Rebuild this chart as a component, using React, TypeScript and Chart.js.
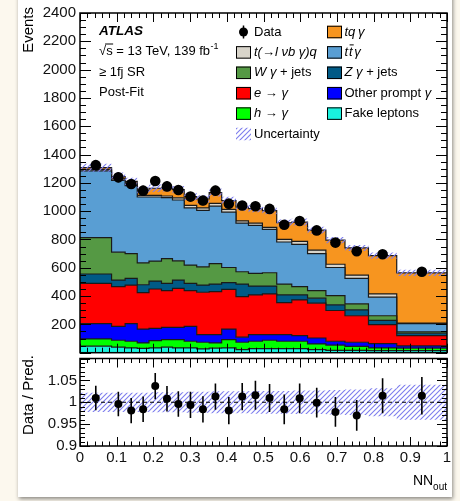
import React, { useEffect, useRef } from 'react';
import { Chart, registerables } from 'chart.js';

Chart.register(...registerables);

const FONT = "'Liberation Sans', Arial, Helvetica, sans-serif";

// NN_out bin edges (variable width)
const binEdges = [0, 0.086, 0.123, 0.156, 0.188, 0.222, 0.252, 0.284, 0.318, 0.352, 0.386, 0.425, 0.459, 0.497, 0.536, 0.577, 0.62, 0.67, 0.722, 0.786, 0.863, 1.0];

// stacked process yields per bin (bottom to top)
const fakeLeptons = [46, 39, 34, 30, 34, 39, 34, 34, 27, 32, 34, 22, 29, 29, 29, 29, 22, 17, 17, 15, 15];
const hToGamma = [51, 49, 47, 39, 51, 53, 58, 47, 47, 37, 58, 52, 52, 59, 52, 52, 40, 36, 28, 19, 17];
const otherPrompt = [108, 98, 124, 98, 87, 87, 87, 105, 54, 59, 75, 36, 47, 40, 47, 39, 42, 28, 29, 30, 16];
const eToGamma = [285, 281, 273, 258, 278, 260, 276, 253, 299, 304, 281, 286, 280, 287, 226, 253, 246, 217, 187, 134, 72];
const zGammaJets = [66, 46, 47, 55, 56, 51, 58, 51, 51, 53, 47, 89, 63, 56, 54, 35, 35, 40, 42, 30, 18];
const wGammaJets = [257, 197, 175, 155, 141, 175, 136, 129, 129, 145, 107, 87, 89, 94, 77, 59, 54, 65, 42, 33, 10];
const ttGamma = [472, 508, 480, 465, 453, 430, 430, 404, 398, 405, 391, 344, 339, 306, 297, 299, 261, 199, 180, 131, 57];
const tLnuBGammaQ = [10, 10, 10, 12, 12, 12, 15, 18, 18, 20, 20, 15, 16, 15, 18, 20, 25, 23, 23, 23, 5];
const tqGamma = [12, 17, 20, 35, 50, 58, 58, 62, 63, 76, 62, 97, 103, 118, 118, 137, 141, 170, 192, 271, 354];

// data
const dataEvents = [1325, 1239, 1192, 1145, 1213, 1175, 1150, 1103, 1075, 1145, 1053, 1040, 1035, 1016, 904, 930, 864, 778, 717, 696, 572];
const dataErrors = [36, 35, 35, 34, 35, 34, 34, 33, 33, 34, 32, 32, 32, 32, 30, 30, 29, 28, 27, 26, 24];

// ratio panel
const ratioValues = [1.010, 0.996, 0.981, 0.984, 1.037, 1.008, 0.996, 0.994, 0.984, 1.013, 0.981, 1.013, 1.016, 1.010, 0.984, 1.009, 0.999, 0.978, 0.970, 1.015, 1.015];
const ratioErrors = [0.028, 0.028, 0.029, 0.029, 0.030, 0.029, 0.029, 0.030, 0.030, 0.030, 0.031, 0.031, 0.033, 0.032, 0.034, 0.034, 0.034, 0.034, 0.035, 0.040, 0.043];
const relUncertainty = [0.022, 0.022, 0.022, 0.022, 0.023, 0.023, 0.023, 0.024, 0.024, 0.025, 0.025, 0.025, 0.026, 0.026, 0.026, 0.027, 0.027, 0.028, 0.029, 0.032, 0.040];

const processLabels = ['Fake leptons', 'h → γ', 'Other prompt γ', 'e → γ', 'Zγ + jets', 'Wγ + jets', 'tt̄γ', 't(→lνbγ)q', 'tqγ'];
const processValues = [fakeLeptons, hToGamma, otherPrompt, eToGamma, zGammaJets, wGammaJets, ttGamma, tLnuBGammaQ, tqGamma];
const processColors = ['#19f2de', '#00ff00', '#0000ff', '#ff0000', '#005a86', '#559944', '#599ed3', '#d8d4ca', '#f7951f'];

const mainYTicks = { step: 200, minor: 50 };
const ratioYTicks = { step: 0.05, minor: 0.01 };
const xTicks = { step: 0.1, minor: 0.02 };

function makeHatch(): CanvasPattern {
  const s = 5;
  const c = document.createElement('canvas');
  c.width = s;
  c.height = s;
  const g = c.getContext('2d')!;
  g.strokeStyle = 'rgb(125,125,238)';
  g.lineWidth = 1.1;
  g.beginPath();
  g.moveTo(0, s);
  g.lineTo(s, 0);
  g.moveTo(-s / 2, s / 2);
  g.lineTo(s / 2, -s / 2);
  g.moveTo(s / 2, s * 1.5);
  g.lineTo(s * 1.5, s / 2);
  g.stroke();
  return g.createPattern(c, 'repeat')!;
}

function errorBarPlugin(id: string, values: number[], errs: number[], centers: number[], lw: number) {
  return {
    id,
    afterDatasetsDraw(chart: any) {
      const { ctx, scales } = chart;
      const x = scales.x;
      const y = scales.y;
      ctx.save();
      ctx.strokeStyle = '#000';
      ctx.lineWidth = lw;
      ctx.beginPath();
      values.forEach((v, i) => {
        const px = x.getPixelForValue(centers[i]);
        ctx.moveTo(px, y.getPixelForValue(v - errs[i]));
        ctx.lineTo(px, y.getPixelForValue(v + errs[i]));
      });
      ctx.stroke();
      ctx.restore();
    },
  };
}

function framePlugin(id: string, yt: { step: number; minor: number }, len: { xMaj: number; xMin: number; yMaj: number; yMin: number }) {
  return {
    id,
    afterDraw(chart: any) {
      const { ctx, chartArea: a, scales } = chart;
      const xs = scales.x;
      const ys = scales.y;
      ctx.save();
      ctx.strokeStyle = '#000';
      ctx.lineWidth = 1;
      ctx.beginPath();
      const xTick = (step: number, l: number) => {
        const n = Math.round((xs.max - xs.min) / step);
        for (let i = 0; i <= n; i++) {
          const px = Math.round(xs.getPixelForValue(xs.min + i * step)) + 0.5;
          ctx.moveTo(px, a.bottom);
          ctx.lineTo(px, a.bottom - l);
          ctx.moveTo(px, a.top);
          ctx.lineTo(px, a.top + l);
        }
      };
      const yTick = (step: number, l: number) => {
        const n = Math.round((ys.max - ys.min) / step);
        for (let i = 0; i <= n; i++) {
          const py = Math.round(ys.getPixelForValue(ys.min + i * step)) + 0.5;
          ctx.moveTo(a.left, py);
          ctx.lineTo(a.left + l, py);
          ctx.moveTo(a.right, py);
          ctx.lineTo(a.right - l, py);
        }
      };
      xTick(xTicks.minor, len.xMin);
      xTick(xTicks.step, len.xMaj);
      yTick(yt.minor, len.yMin);
      yTick(yt.step, len.yMaj);
      ctx.stroke();
      ctx.lineWidth = 1.5;
      ctx.strokeRect(a.left, a.top, a.right - a.left, a.bottom - a.top);
      ctx.restore();
    },
  };
}

function drawRich(ctx: CanvasRenderingContext2D, x: number, y: number, parts: [string, boolean][], size: number) {
  let cx = x;
  for (const [t, it] of parts) {
    ctx.font = `${it ? 'italic ' : ''}${size}px ${FONT}`;
    ctx.fillText(t, cx, y);
    cx += ctx.measureText(t).width;
  }
  return cx;
}

function mainTextPlugin(hatch: CanvasPattern) {
  return {
    id: 'mainText',
    afterDraw(chart: any) {
      const { ctx, chartArea: a } = chart;
      ctx.save();
      ctx.fillStyle = '#000';
      ctx.textBaseline = 'middle';
      ctx.textAlign = 'left';

      // y title
      ctx.save();
      ctx.translate(a.left - 51, a.top - 6);
      ctx.rotate(-Math.PI / 2);
      ctx.textAlign = 'right';
      ctx.font = `15px ${FONT}`;
      ctx.fillText('Events', 0, 0);
      ctx.restore();

      // ATLAS block
      const x0 = a.left + 19;
      const ly = (k: number) => a.top + 18 + 20.5 * k;
      ctx.font = `bold italic 13.5px ${FONT}`;
      ctx.fillText('ATLAS', x0, ly(0));
      ctx.font = `13px ${FONT}`;
      const wSqrt = ctx.measureText('√').width;
      const wS = ctx.measureText('s').width;
      const end = drawRich(ctx, x0, ly(1), [['√s = 13 TeV, 139 fb', false]], 13);
      ctx.beginPath();
      ctx.lineWidth = 1;
      ctx.strokeStyle = '#000';
      ctx.moveTo(x0 + wSqrt - 1, ly(1) - 7.5);
      ctx.lineTo(x0 + wSqrt + wS + 0.5, ly(1) - 7.5);
      ctx.stroke();
      ctx.font = `9px ${FONT}`;
      ctx.fillText('-1', end + 0.5, ly(1) - 5);
      drawRich(ctx, x0, ly(2), [['≥ 1fj SR', false]], 13);
      drawRich(ctx, x0, ly(3), [['Post-Fit', false]], 13);

      // legend
      const c1 = a.left + 156;
      const c2 = a.left + 247;
      const ry = (r: number) => a.top + 19 + 20.4 * r;
      const bw = 15;
      const bh = 12.5;
      const box = (x: number, y: number, color: string) => {
        ctx.fillStyle = color;
        ctx.fillRect(x, y - bh / 2, bw, bh);
        ctx.strokeStyle = '#000';
        ctx.lineWidth = 1;
        ctx.strokeRect(x + 0.5, y - bh / 2 + 0.5, bw - 1, bh - 1);
        ctx.fillStyle = '#000';
      };
      // Data marker
      ctx.beginPath();
      ctx.arc(c1 + 7.5, ry(0), 4.5, 0, Math.PI * 2);
      ctx.fill();
      ctx.beginPath();
      ctx.lineWidth = 1.5;
      ctx.moveTo(c1 + 7.5, ry(0) - 6.5);
      ctx.lineTo(c1 + 7.5, ry(0) + 6.5);
      ctx.stroke();
      drawRich(ctx, c1 + 18, ry(0), [['Data', false]], 13);

      box(c1, ry(1), processColors[7]);
      drawRich(ctx, c1 + 18, ry(1), [['t(', true], ['→', false], ['l ν', true], ['b ', true], ['γ', true], [')q', true]], 13);
      box(c1, ry(2), processColors[5]);
      drawRich(ctx, c1 + 18, ry(2), [['W', true], [' ', false], ['γ', true], [' + jets', false]], 13);
      box(c1, ry(3), processColors[3]);
      drawRich(ctx, c1 + 18, ry(3), [['e', true], [' → ', false], ['γ', true]], 13);
      box(c1, ry(4), processColors[1]);
      drawRich(ctx, c1 + 18, ry(4), [['h', true], [' → ', false], ['γ', true]], 13);
      ctx.fillStyle = hatch;
      ctx.fillRect(c1, ry(5) - bh / 2, bw, bh);
      ctx.fillStyle = '#000';
      drawRich(ctx, c1 + 18, ry(5), [['Uncertainty', false]], 13);

      box(c2, ry(0), processColors[8]);
      drawRich(ctx, c2 + 17.5, ry(0), [['tq', true], ['\u2009', false], ['γ', true]], 13);
      box(c2, ry(1), processColors[6]);
      {
        const tx = c2 + 17.5;
        ctx.font = `italic 13px ${FONT}`;
        const wt = ctx.measureText('t').width;
        ctx.fillText('t', tx, ry(1));
        ctx.fillText('t', tx + wt + 1, ry(1));
        ctx.beginPath();
        ctx.lineWidth = 1;
        ctx.moveTo(tx + wt + 1.5, ry(1) - 7.5);
        ctx.lineTo(tx + 2 * wt + 2, ry(1) - 7.5);
        ctx.stroke();
        ctx.fillText('γ', tx + 2 * wt + 2.5, ry(1));
      }
      box(c2, ry(2), processColors[4]);
      drawRich(ctx, c2 + 17.5, ry(2), [['Z', true], [' ', false], ['γ', true], [' + jets', false]], 13);
      box(c2, ry(3), processColors[2]);
      drawRich(ctx, c2 + 17.5, ry(3), [['Other prompt ', false], ['γ', true]], 13);
      box(c2, ry(4), processColors[0]);
      drawRich(ctx, c2 + 17.5, ry(4), [['Fake leptons', false]], 13);
      ctx.restore();
    },
  };
}

const ratioTextPlugin = {
  id: 'ratioText',
  afterDraw(chart: any) {
    const { ctx, chartArea: a } = chart;
    ctx.save();
    ctx.fillStyle = '#000';
    ctx.textBaseline = 'middle';
    ctx.save();
    ctx.translate(a.left - 51, a.top + 36.5);
    ctx.rotate(-Math.PI / 2);
    ctx.textAlign = 'center';
    ctx.font = `15px ${FONT}`;
    ctx.fillText('Data / Pred.', 0, 0);
    ctx.restore();
    ctx.textAlign = 'right';
    ctx.font = `10px ${FONT}`;
    const wOut = ctx.measureText('out').width;
    ctx.fillText('out', a.right, a.bottom + 41);
    ctx.font = `14px ${FONT}`;
    ctx.fillText('NN', a.right - wOut, a.bottom + 35.5);
    ctx.restore();
  },
};

export default function App() {
  const mainRef = useRef<HTMLCanvasElement | null>(null);
  const ratioRef = useRef<HTMLCanvasElement | null>(null);

  useEffect(() => {
    Chart.defaults.font.family = FONT;
    Chart.defaults.color = '#111';
    const hatch = makeHatch();
    const nBins = binEdges.length - 1;
    const centers = binEdges.slice(0, nBins).map((e, i) => (e + binEdges[i + 1]) / 2);
    const steps = (vals: number[]) => [
      ...vals.map((v, i) => ({ x: binEdges[i], y: v })),
      { x: binEdges[nBins], y: vals[nBins - 1] },
    ];
    const prediction = centers.map((_, i) => processValues.reduce((s, p) => s + p[i], 0));
    const clear = 'rgba(0,0,0,0)';

    const mainChart = new Chart(mainRef.current!, {
      type: 'line',
      data: {
        datasets: [
          ...processValues.map((vals, k) => ({
            label: processLabels[k],
            data: steps(vals),
            stepped: true,
            fill: k === 0 ? 'origin' : '-1',
            backgroundColor: processColors[k],
            borderColor: '#1a1a1a',
            borderWidth: 1.2,
            pointRadius: 0,
            pointHoverRadius: 0,
            order: 2,
            stack: 'mc',
          })),
          {
            label: 'unc-lo',
            data: steps(prediction.map((p, i) => p * (1 - relUncertainty[i]))),
            stepped: true,
            fill: false,
            borderColor: clear,
            borderWidth: 0,
            pointRadius: 0,
            order: 1,
            stack: 'uncLo',
          },
          {
            label: 'Uncertainty',
            data: steps(prediction.map((p, i) => p * (1 + relUncertainty[i]))),
            stepped: true,
            fill: '-1',
            backgroundColor: hatch,
            borderColor: clear,
            borderWidth: 0,
            pointRadius: 0,
            order: 1,
            stack: 'uncHi',
          },
          {
            label: 'Data',
            data: centers.map((c, i) => ({ x: c, y: dataEvents[i] })),
            showLine: false,
            fill: false,
            pointRadius: 5.3,
            pointBackgroundColor: '#000',
            pointBorderColor: '#000',
            pointBorderWidth: 0,
            order: 0,
            stack: 'data',
          },
        ],
      } as any,
      options: {
        responsive: false,
        animation: false,
        events: [],
        layout: { padding: { left: 18, right: 13, top: 13, bottom: 2 } },
        plugins: { legend: { display: false }, tooltip: { enabled: false } },
        scales: {
          x: { type: 'linear', min: 0, max: 1, display: false },
          y: {
            type: 'linear',
            min: 0,
            max: 2400,
            stacked: true,
            grid: { display: false, drawTicks: false },
            border: { display: false },
            ticks: {
              stepSize: mainYTicks.step,
              autoSkip: false,
              padding: 4,
              color: '#111',
              font: { size: 15 },
              callback: (v: any) => (Number(v) === 0 ? null : String(v)),
            },
            afterFit: (s: any) => {
              s.width = 62;
              s.paddingTop = 0;
              s.paddingBottom = 0;
            },
          },
        },
      } as any,
      plugins: [
        errorBarPlugin('mainErr', dataEvents, dataErrors, centers, 2),
        framePlugin('mainFrame', mainYTicks, { xMaj: 9, xMin: 5, yMaj: 11, yMin: 6 }),
        mainTextPlugin(hatch),
      ],
    });

    const ratioChart = new Chart(ratioRef.current!, {
      type: 'line',
      data: {
        datasets: [
          {
            label: 'unc-lo',
            data: steps(relUncertainty.map((u) => 1 - u)),
            stepped: true,
            fill: false,
            borderColor: clear,
            borderWidth: 0,
            pointRadius: 0,
            order: 2,
          },
          {
            label: 'unc-hi',
            data: steps(relUncertainty.map((u) => 1 + u)),
            stepped: true,
            fill: '-1',
            backgroundColor: hatch,
            borderColor: clear,
            borderWidth: 0,
            pointRadius: 0,
            order: 2,
          },
          {
            label: 'unity',
            data: [{ x: 0, y: 1 }, { x: 1, y: 1 }],
            borderColor: '#000',
            borderWidth: 1,
            borderDash: [4, 3],
            pointRadius: 0,
            fill: false,
            order: 1,
          },
          {
            label: 'Data / Pred.',
            data: centers.map((c, i) => ({ x: c, y: ratioValues[i] })),
            showLine: false,
            fill: false,
            pointRadius: 4,
            pointBackgroundColor: '#000',
            pointBorderColor: '#000',
            pointBorderWidth: 0,
            order: 0,
          },
        ],
      } as any,
      options: {
        responsive: false,
        animation: false,
        events: [],
        layout: { padding: { left: 18, right: 13, top: 18.5, bottom: 0 } },
        plugins: { legend: { display: false }, tooltip: { enabled: false } },
        scales: {
          x: {
            type: 'linear',
            min: 0,
            max: 1,
            grid: { display: false, drawTicks: false },
            border: { display: false },
            ticks: {
              stepSize: xTicks.step,
              autoSkip: false,
              maxRotation: 0,
              padding: 3,
              color: '#111',
              font: { size: 15 },
              callback: (v: any) => String(Number(Number(v).toFixed(1))),
            },
            afterFit: (s: any) => {
              s.height = 55;
              s.paddingLeft = 0;
              s.paddingRight = 0;
            },
          },
          y: {
            type: 'linear',
            min: 0.9,
            max: 1.1,
            grid: { display: false, drawTicks: false },
            border: { display: false },
            ticks: {
              stepSize: ratioYTicks.step,
              autoSkip: false,
              padding: 3,
              color: '#111',
              font: { size: 15 },
              callback: (v: any) => (Math.abs(Number(v) - 1.1) < 1e-6 ? null : String(Number(Number(v).toFixed(2)))),
            },
            afterFit: (s: any) => {
              s.width = 62;
              s.paddingTop = 0;
              s.paddingBottom = 0;
            },
          },
        },
      } as any,
      plugins: [
        errorBarPlugin('ratioErr', ratioValues, ratioErrors, centers, 1.6),
        framePlugin('ratioFrame', ratioYTicks, { xMaj: 9, xMin: 4.5, yMaj: 10, yMin: 5 }),
        ratioTextPlugin,
      ],
    });

    return () => {
      mainChart.destroy();
      ratioChart.destroy();
    };
  }, []);

  return (
    <div style={{ position: 'fixed', left: 0, top: 0, width: 460, height: 501, background: '#fcf8ee', overflow: 'hidden' }}>
      <div
        style={{
          position: 'absolute',
          left: 18,
          top: -10,
          width: 434,
          height: 507,
          background: '#ffffff',
          boxShadow: '1px 2px 4px rgba(0,0,0,0.45)',
        }}
      />
      <canvas ref={mainRef} width={460} height={358} style={{ position: 'absolute', left: 0, top: 0, display: 'block' }} />
      <canvas ref={ratioRef} width={460} height={161} style={{ position: 'absolute', left: 0, top: 340, display: 'block' }} />
    </div>
  );
}
